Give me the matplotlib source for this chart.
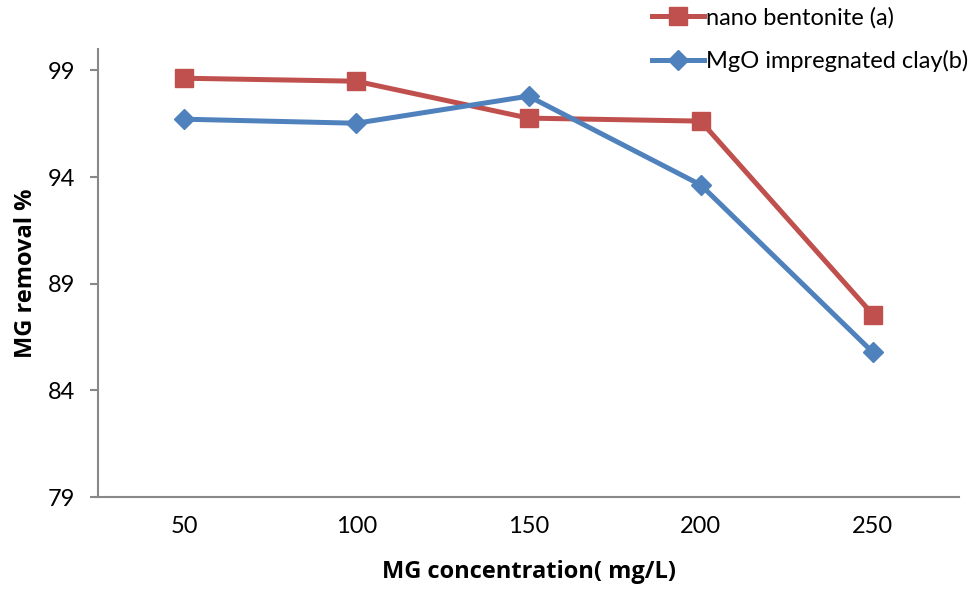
import matplotlib
matplotlib.use('Agg')
import matplotlib.pyplot as plt

# Data
concentrations = ['50', '100', '150', '200', '250']
nano_bentonite = [98.63, 98.49, 96.76, 96.62, 87.55]
mgo_clay = [96.71, 96.52, 97.79, 93.63, 85.78]
y_ticks = [79, 84, 89, 94, 99]

plt.rcParams['font.family'] = ['Lato', 'DejaVu Sans']

fig = plt.figure(figsize=(9.69, 5.91), dpi=100)
ax = fig.add_axes([98 / 969, 1 - 497 / 591, (959 - 98) / 969, (497 - 49) / 591])

x = list(range(len(concentrations)))
ax.plot(x, nano_bentonite, color='#C0504D', linewidth=3.6, marker='s',
        markersize=13, label='nano bentonite (a)')
ax.plot(x, mgo_clay, color='#4F81BD', linewidth=3.6, marker='D',
        markersize=10, label='MgO impregnated clay(b)')

ax.set_xlim(-0.5, len(concentrations) - 0.5)
ax.set_ylim(79, 100)
ax.set_xticks(x)
ax.set_xticklabels(concentrations)
ax.set_yticks(y_ticks)

for side in ['top', 'right']:
    ax.spines[side].set_visible(False)
for side in ['left', 'bottom']:
    ax.spines[side].set_color('#888888')
    ax.spines[side].set_linewidth(1.5)

ax.tick_params(axis='y', length=5.5, width=1.5, color='#888888', labelsize=17, pad=11)
ax.tick_params(axis='x', length=0, labelsize=17, pad=14)

label_font = dict(family=['Open Sans', 'DejaVu Sans'], fontsize=17, fontweight='bold')
ax.set_xlabel('MG concentration( mg/L)', labelpad=16, **label_font)
ax.set_ylabel('MG removal %', labelpad=7, **label_font)

fig.legend(loc='upper left', bbox_to_anchor=(640 / 969, 1.008), frameon=False,
           fontsize=17, handlelength=2.2, handletextpad=0.1, labelspacing=0.9,
           borderpad=0.0)

fig.savefig('out.png', dpi=100)
plt.close(fig)
